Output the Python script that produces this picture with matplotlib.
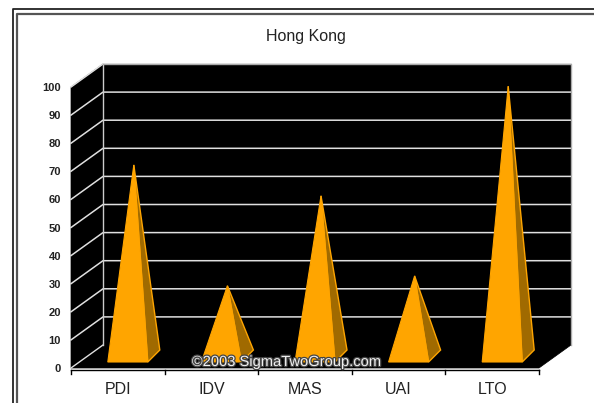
import matplotlib
matplotlib.use('Agg')
import matplotlib.pyplot as plt
import matplotlib.patheffects as pe
from matplotlib.patches import Polygon

categories = ['PDI', 'IDV', 'MAS', 'UAI', 'LTO']
values = [68, 25, 57, 28.5, 96]
yticks = [0, 10, 20, 30, 40, 50, 60, 70, 80, 90, 100]

# pixel sizes of the fake 3d box
cat_w = 93.6
val_h = 2.81
x0, y0 = 71, 368
dx = 32 / cat_w
dy = 23 / val_h

fig = plt.figure(figsize=(5.94, 4.03), dpi=100)
ax = fig.add_axes([0, 0, 1, 1])
ax.set_xlim(-x0 / cat_w, (594 - x0) / cat_w)
ax.set_ylim((y0 - 403) / val_h, y0 / val_h)
ax.axis('off')
n = len(categories)
plt.rcParams['font.family'] = ['Liberation Sans', 'DejaVu Sans']

px = 1 / cat_w
py = 1 / val_h

# double frame, open at right and bottom
top = 100 + (87 - 9) * py
top2 = 100 + (87 - 14) * py
left = (12.5 - x0) * px
left2 = (16.5 - x0) * px
right = (594 - x0) * px
bottom = (y0 - 403) * py
ax.plot([left, left, right], [bottom, top, top], color='#222222', lw=1.3, solid_capstyle='butt')
ax.plot([left2, left2, right], [bottom, top2, top2], color='#555555', lw=1.6, solid_capstyle='butt')

# walls and floor
ax.add_patch(Polygon([(0, 0), (0, 100), (dx, 100 + dy), (dx, dy)], fc='black', ec='black', lw=0.5))
ax.add_patch(Polygon([(dx, dy), (dx, 100 + dy), (n + dx, 100 + dy), (n + dx, dy)], fc='black', ec='none'))
ax.add_patch(Polygon([(0, 0), (dx, dy), (n + dx, dy), (n, 0)], fc='black', ec='black', lw=0.5))

for v in yticks[1:]:
    ax.plot([0, dx, n + dx], [v, v + dy, v + dy], color='#e0e0e0', lw=1.1)
ax.plot([0, dx], [0, dy], color='#e0e0e0', lw=1.0)
ax.plot([dx, dx], [dy, 100 + dy], color='#cccccc', lw=1.0)
ax.plot([dx, n + dx, n + dx], [100 + dy, 100 + dy, dy], color='#aaaaaa', lw=1.0)

# pyramids
for i, v in enumerate(values):
    c = i + 0.5
    fl = c + (10 - 20) * px
    fr = c + (10 + 20) * px
    by = 6 * py
    bx2 = fr + 12 * px
    by2 = by + 12 * py
    apex = (c + 16 * px, 12 * py + v)
    ax.add_patch(Polygon([(fr, by), (bx2, by2), apex], fc='#a06a00', ec='#ffa500', lw=1.0, zorder=3))
    ax.add_patch(Polygon([(fl, by), (fr, by), apex], fc='#ffa500', ec='#ffa500', lw=0.8, zorder=4))

# axis line, ticks, labels
ax.plot([0, n], [-0.7, -0.7], color='black', lw=1.0)
for i in range(n + 1):
    ax.plot([i, i], [-0.7, -2], color='black', lw=1.0)
for i, name in enumerate(categories):
    ax.text(i + 0.5, -6.8 - 2 * py, name, ha='center', va='center', fontsize=11.5, color='#222222')
for v in yticks:
    ax.text(-10 * px, v - 1 * py, str(v), ha='right', va='center', fontsize=8, color='#222222',
            fontweight='bold', fontstretch='condensed')

ax.text((306 - x0) * px, (y0 - 37) * py, 'Hong Kong', ha='center', va='center', fontsize=11.5, color='#222222')

wm = ax.text((287 - x0) * px, (y0 - 362) * py, '©2003 SigmaTwoGroup.com', ha='center', va='center',
             fontsize=10.6, color='#f0f0f0', zorder=6)
wm.set_path_effects([pe.withStroke(linewidth=1.8, foreground='#444444')])

fig.savefig('out.png', dpi=100)
